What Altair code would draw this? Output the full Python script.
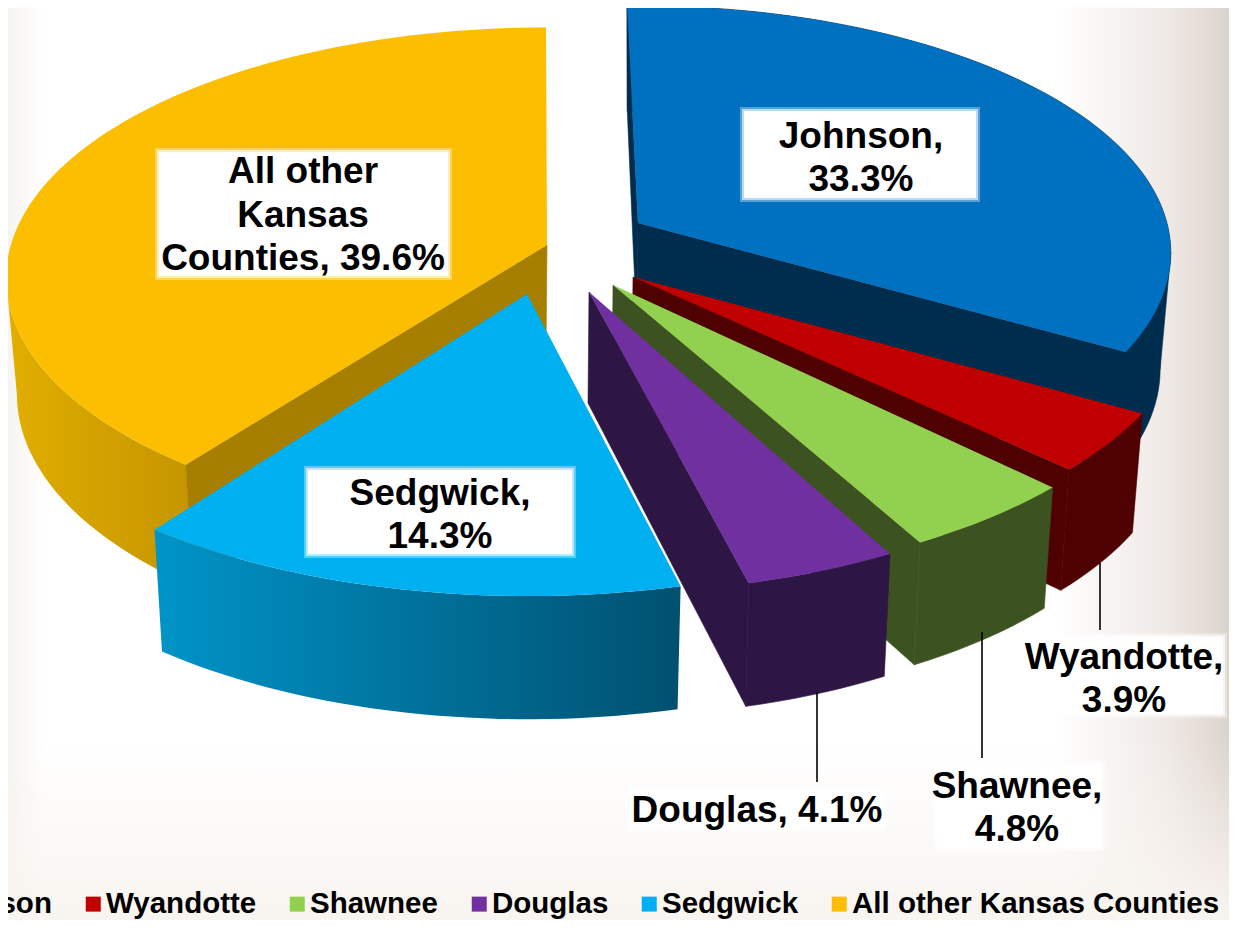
import math
import altair as alt

counties = ["Johnson", "Wyandotte", "Shawnee", "Douglas", "Sedgwick", "All other Kansas Counties"]
shares = [33.3, 3.9, 4.8, 4.1, 14.3, 39.6]
top_colors = ["#0070c0", "#c00000", "#92d050", "#7030a0", "#00b0f0", "#fbbe00"]
wall_colors = ["#002c4e", "#4f0000", "#3c5220", "#2d1643", "#00506f", "#a67e00"]

# layout of the exploded slices, in page pixels
arc_centres = [(639, 223), (648, 282.5), (631.5, 300.5), (601.5, 312), (528, 305), (546, 248)]
apexes = [(638, 223), (633, 277), (613, 285), (589, 292), (527, 294), (547, 245)]
radius_factor = [0.985, 1, 1, 1, 1.037, 1]
start_nudge = [-1.45, 0, 0, 0, 0, 0]

label_lines = ["Johnson,", "33.3%", "All other", "Kansas", "Counties, 39.6%", "Sedgwick,", "14.3%",
               "Wyandotte,", "3.9%", "Shawnee,", "4.8%", "Douglas, 4.1%"]
label_x = [861, 861, 303, 303, 303, 440, 440, 1124, 1124, 1017, 1017, 757]
label_y = [137, 180, 172, 216, 259, 494, 537, 658, 701, 787, 830, 811]
box_x = [742, 157, 306, 1024, 935, 628]
box_x2 = [978, 450, 574, 1225, 1103, 885]
box_y = [109, 150, 468, 635, 762, 788]
box_y2 = [200, 278, 556, 716, 850, 830]
lead_x = [1100, 982, 817]
lead_y = [563, 632, 692]
lead_y2 = [630, 758, 782]

OFF = 8
W, H = 1221, 912
A, B, P = 536, 247, 0.12
SCALE_LOW = 0.98
RIGHT_TANGENT = math.acos(-P)
LEFT_TANGENT = 2 * math.pi - RIGHT_TANGENT


def project(theta, k):
    u, v = math.sin(theta), math.cos(theta)
    d = 1 + P * v
    return k * A * u / d, -k * B * v / d, v


def top_pt(i, theta):
    c = arc_centres[i]
    x, y, _ = project(theta, radius_factor[i])
    return [c[0] + x, c[1] + y]


def low_pt(i, theta):
    c = arc_centres[i]
    x, y, v = project(theta, radius_factor[i])
    return [c[0] + SCALE_LOW * x, c[1] + SCALE_LOW * y + 115 - 14 * v]


def low_apex(a):
    return [a[0] - 1, a[1] + 111]


def arc(fn, i, t0, t1):
    n = max(2, int(abs(t1 - t0) / math.radians(1.5)))
    return [fn(i, t0 + (t1 - t0) * j / n) for j in range(n + 1)]


def feature(points, **props):
    return {"type": "Feature", "properties": props,
            "geometry": {"type": "Polygon", "coordinates": [points + [points[0]]]}}


def shape(features, mark):
    return alt.Chart(alt.Data(values=features)).mark_geoshape(**mark).project(
        type="identity", scale=1, translate=[-OFF, -OFF])


def wall_chart(points, fill):
    if isinstance(fill, str):
        return shape([feature(points)], dict(fill=fill, stroke=fill, strokeWidth=0.6))
    return shape([feature(points)], dict(fill=fill, strokeWidth=0))


angles = []
acc = 0.0
for s in shares:
    angles.append((math.radians(acc * 3.6), math.radians((acc + s) * 3.6)))
    acc += s

layers = []
# page tint
layers.append(alt.Chart().mark_rect(fill=alt.Gradient(
    gradient="linear", x1=0, x2=1, y1=0, y2=0,
    stops=[alt.GradientStop(offset=0, color="#f6f4f1"), alt.GradientStop(offset=0.03, color="#ffffff"),
           alt.GradientStop(offset=0.86, color="#ffffff"), alt.GradientStop(offset=0.95, color="#efe9e5"),
           alt.GradientStop(offset=1, color="#dcd3cd")])).encode(
    x=alt.value(0), x2=alt.value(W), y=alt.value(0), y2=alt.value(H)))
layers.append(alt.Chart().mark_rect(fill=alt.Gradient(
    gradient="linear", x1=0, x2=0, y1=0, y2=1,
    stops=[alt.GradientStop(offset=0, color="rgba(250,246,242,0)"),
           alt.GradientStop(offset=1, color="rgba(248,244,240,1)")])).encode(
    x=alt.value(0), x2=alt.value(W), y=alt.value(730), y2=alt.value(H)))

grad_other = alt.Gradient(gradient="linear", x1=0, x2=1, y1=0, y2=0,
                          stops=[alt.GradientStop(offset=0, color="#e2ae00"),
                                 alt.GradientStop(offset=1, color="#c49500")])
grad_sedg = alt.Gradient(gradient="linear", x1=0, x2=1, y1=0, y2=0,
                         stops=[alt.GradientStop(offset=0, color="#0094c8"),
                                alt.GradientStop(offset=1, color="#00506f")])

color = alt.Color("properties.county:N",
                  scale=alt.Scale(domain=counties, range=top_colors),
                  sort=counties,
                  legend=alt.Legend(title=None, orient="none", direction="horizontal", columns=6,
                                    legendX=-106.5, legendY=881, symbolType="square", symbolSize=225,
                                    symbolStrokeWidth=0, labelFont="Liberation Sans", labelFontWeight="bold",
                                    labelFontSize=29.5, labelColor="#000000", labelOffset={"expr": "-2"},
                                    columnPadding=26, padding=0, labelLimit=600))


def slice_layers(i):
    a = apexes[i]
    t0, t1 = angles[i]
    t0 += math.radians(start_nudge[i])
    out = []
    if i == 5:  # largest slice: cut face at its start, rim on the left
        rim = arc(top_pt, i, t0, LEFT_TANGENT) + arc(low_pt, i, t0, LEFT_TANGENT)[::-1]
        out.append(wall_chart(rim, grad_other))
        out.append(wall_chart([a, top_pt(i, t0), low_pt(i, t0), low_apex(a)], wall_colors[i]))
    elif i == 4:  # only its rim shows
        rim = arc(top_pt, i, t0, t1) + arc(low_pt, i, t0, t1)[::-1]
        out.append(wall_chart(rim, grad_sedg))
    else:
        if i == 0:
            out.append(wall_chart([a, top_pt(i, t0), low_pt(i, t0), low_apex(a)], wall_colors[i]))
            out.append(wall_chart([top_pt(i, RIGHT_TANGENT), low_pt(i, RIGHT_TANGENT),
                                   low_pt(i, t1), top_pt(i, t1)], wall_colors[i]))
        rim = arc(top_pt, i, t0, t1) + arc(low_pt, i, t0, t1)[::-1]
        out.append(wall_chart(rim, wall_colors[i]))
        out.append(wall_chart([a, top_pt(i, t1), low_pt(i, t1), low_apex(a)], wall_colors[i]))
    top = [a] + arc(top_pt, i, t0, t1)
    out.append(shape([feature(top, county=counties[i])], dict(strokeWidth=0)).encode(color=color))
    return out


for i in [5, 0, 1, 2, 3, 4]:
    layers.extend(slice_layers(i))

boxes = [{"x": x - OFF, "x2": x2 - OFF, "y": y - OFF, "y2": y2 - OFF}
         for x, x2, y, y2 in zip(box_x, box_x2, box_y, box_y2)]
soft = [{"x": b["x"] - 2, "x2": b["x2"] + 2, "y": b["y"] - 2, "y2": b["y2"] + 2} for b in boxes]
inner = [{"x": b["x"] + 2, "x2": b["x2"] - 2, "y": b["y"] + 2, "y2": b["y2"] - 2} for b in boxes]


def box_chart(rows, opacity):
    return alt.Chart(alt.Data(values=rows)).mark_rect(fill="#ffffff", opacity=opacity).encode(
        x=alt.X("x:Q", scale=None, axis=None), x2="x2:Q",
        y=alt.Y("y:Q", scale=None, axis=None), y2="y2:Q")


layers += [box_chart(soft, 0.35), box_chart(boxes, 0.6), box_chart(inner, 1.0)]

leaders = [{"x": x - OFF, "y": y - OFF, "y2": y2 - OFF} for x, y, y2 in zip(lead_x, lead_y, lead_y2)]
layers.append(alt.Chart(alt.Data(values=leaders)).mark_rule(color="#000000", strokeWidth=1.6).encode(
    x=alt.X("x:Q", scale=None, axis=None), y=alt.Y("y:Q", scale=None, axis=None), y2="y2:Q"))

texts = [{"t": t, "x": x - OFF, "y": y - OFF} for t, x, y in zip(label_lines, label_x, label_y)]
layers.append(alt.Chart(alt.Data(values=texts)).mark_text(
    font="Liberation Sans", fontWeight="bold", fontSize=37, color="#000000", align="center", baseline="middle"
).encode(x=alt.X("x:Q", scale=None, axis=None), y=alt.Y("y:Q", scale=None, axis=None), text="t:N"))

chart = alt.layer(*layers).properties(
    width=W, height=H, padding=0, autosize=alt.AutoSizeParams(type="none"), background="#ffffff"
).configure_view(stroke=None).configure_legend(padding=0)

chart.save("out.html", embed_options={"renderer": "svg", "actions": False})
